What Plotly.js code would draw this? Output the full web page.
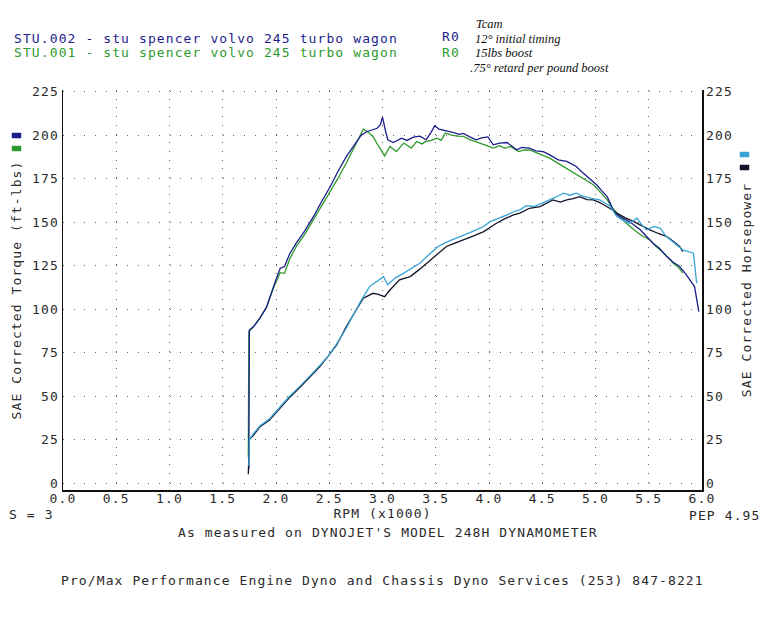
<!DOCTYPE html>
<html>
<head>
<meta charset="utf-8">
<script src="https://cdn.plot.ly/plotly-3.0.1.min.js"></script>
<style>
html,body{margin:0;padding:0;background:#fff;}
#chart{width:773px;height:638px;}
</style>
</head>
<body>
<div id="chart"></div>
<script>
// ---- data (rpm x1000, value) ----
const rpmTicks = [0.0,0.5,1.0,1.5,2.0,2.5,3.0,3.5,4.0,4.5,5.0,5.5,6.0];
const valueTicks = [0,25,50,75,100,125,150,175,200,225];

const torque002 = [[1.745,8],[1.75,88],[1.79,90],[1.85,95],[1.91,101],[1.975,113],[2.0,117],[2.04,123.5],[2.08,124.5],[2.13,132],[2.19,138],[2.27,145],[2.35,153],[2.43,162],[2.51,170.5],[2.58,179],[2.66,187.7],[2.72,193],[2.76,196.4],[2.80,200],[2.85,202],[2.90,203],[2.95,204],[2.98,206],[3.00,210.4],[3.03,202],[3.05,197.4],[3.10,195.8],[3.14,197],[3.18,198.3],[3.23,197],[3.29,198.9],[3.35,199.5],[3.41,197.4],[3.45,201],[3.49,205.4],[3.53,203.5],[3.57,203],[3.62,202],[3.67,201.5],[3.72,200.5],[3.76,201],[3.82,199],[3.88,197.4],[3.93,198.5],[3.99,199],[4.04,194.5],[4.10,195.5],[4.17,195.8],[4.22,193.5],[4.26,191.6],[4.31,193],[4.38,192.6],[4.44,191],[4.51,190.6],[4.57,188.7],[4.65,185.8],[4.73,184.9],[4.82,182],[4.87,179],[4.92,176.2],[5.01,171.5],[5.06,168],[5.11,164.7],[5.18,155.2],[5.23,153],[5.29,151.3],[5.35,149],[5.42,145.6],[5.48,142],[5.54,137.9],[5.60,135],[5.67,130.2],[5.73,127],[5.79,124.5],[5.85,120],[5.89,116.8],[5.93,113],[5.97,98.6]];

const torque001 = [[1.74,15],[1.745,87],[1.79,90],[1.85,95],[1.91,101],[1.975,112],[2.04,121],[2.08,120.6],[2.13,129],[2.19,136],[2.27,143],[2.35,151.3],[2.43,159],[2.51,167.6],[2.58,175],[2.66,184],[2.74,193.5],[2.78,199],[2.82,203.5],[2.86,202],[2.91,199.3],[2.96,194],[3.02,188.1],[3.07,193.5],[3.13,190.6],[3.20,195.5],[3.27,192.6],[3.32,196.4],[3.37,195],[3.41,196.4],[3.46,197],[3.51,198.3],[3.55,197],[3.59,201.2],[3.65,200],[3.70,199.5],[3.76,199.3],[3.82,197.5],[3.87,196.5],[3.92,195.5],[3.98,194],[4.04,192.6],[4.10,194],[4.15,192.5],[4.20,193.5],[4.28,190.6],[4.33,191.5],[4.38,191.6],[4.42,190.6],[4.50,189],[4.57,186.8],[4.63,184.5],[4.70,182],[4.78,179],[4.85,176.2],[4.92,174],[4.98,171.5],[5.05,167],[5.11,162.8],[5.16,158],[5.20,155.2],[5.28,150],[5.36,145.6],[5.43,142.5],[5.51,139.8],[5.57,136],[5.64,132.2],[5.69,129],[5.73,126.4],[5.78,124],[5.82,120.7]];

const hp002 = [[1.745,10],[1.75,25],[1.79,28.5],[1.85,33],[1.94,37],[2.04,44],[2.12,49.5],[2.23,56],[2.32,61.5],[2.41,67.5],[2.49,73],[2.57,80],[2.65,88],[2.73,97],[2.80,105],[2.88,113],[2.95,116],[3.01,118.7],[3.05,114],[3.12,118],[3.20,120.7],[3.28,123.5],[3.35,126.4],[3.43,131],[3.52,136],[3.60,138.5],[3.70,140.8],[3.78,143],[3.88,145.6],[3.95,147.5],[4.01,150.3],[4.10,152.3],[4.17,154.2],[4.23,156],[4.29,157.1],[4.35,159.5],[4.42,159],[4.50,161],[4.57,162.8],[4.63,164.5],[4.70,166.7],[4.76,165.5],[4.82,166.7],[4.88,165],[4.95,163.8],[5.04,162.8],[5.09,161],[5.14,159],[5.20,153.2],[5.26,151],[5.32,149.4],[5.39,152.3],[5.44,148],[5.48,145.6],[5.55,147.5],[5.61,146.5],[5.66,142],[5.70,139.8],[5.76,137],[5.82,134.1],[5.87,133],[5.92,132.2],[5.95,114.9]];

const hp001 = [[1.74,5],[1.75,25],[1.79,27.6],[1.85,32.4],[1.94,36.2],[2.04,43],[2.12,48.7],[2.23,55.4],[2.32,61],[2.41,66.9],[2.49,73],[2.57,79.4],[2.66,90],[2.73,97],[2.82,106.3],[2.91,109.1],[2.96,108.5],[3.02,107.2],[3.07,111],[3.16,116.8],[3.26,118.7],[3.35,123],[3.45,128.3],[3.52,132],[3.60,136],[3.68,138],[3.76,139.8],[3.85,142],[3.95,144.6],[4.01,147],[4.07,149.4],[4.15,152],[4.23,154.2],[4.29,155.2],[4.38,158],[4.48,159],[4.54,161],[4.60,162.8],[4.67,161.5],[4.73,162.8],[4.79,163.5],[4.85,164.7],[4.92,163],[4.98,162.8],[5.05,161],[5.11,159],[5.16,157],[5.20,155.2],[5.28,152.5],[5.36,150.3],[5.43,148],[5.51,145.6],[5.59,143.5],[5.67,141.7],[5.73,139],[5.79,136],[5.82,133]];

const runNames = ["STU.002 - stu spencer volvo 245 turbo wagon","STU.001 - stu spencer volvo 245 turbo wagon"];
const noteLines = ["Tcam","12° initial timing","15lbs boost",".75° retard per pound boost"];

// ---- styling ----
const C002T = "#1d1d8c", C001T = "#2e9a2e", C002H = "#3aa3d6", C001H = "#141428";
const MONO = "DejaVu Sans Mono, Liberation Mono, monospace";
const HAND = "Liberation Serif, DejaVu Serif, serif";
const TXT = "#2a2a2a";
const FS = 13;
const sp = t => '<span style="letter-spacing:1.1px">' + t + '</span>';

function tr(pairs, color, yaxis, name){
  return {x: pairs.map(p=>p[0]), y: pairs.map(p=>p[1]), type:"scatter", mode:"lines",
          name:name, yaxis:yaxis, line:{color:color, width:1.3}, hoverinfo:"skip"};
}
const data = [
  tr(hp001, C001H, "y2", "STU.001 HP"),
  tr(hp002, C002H, "y2", "STU.002 HP"),
  tr(torque001, C001T, "y", "STU.001 TQ"),
  tr(torque002, C002T, "y", "STU.002 TQ")
];

// plot area in pixels: x 63..702, y 90..490
const L=63, R=702, T=90, B=490;
const px = x => (x-L)/(R-L);
const py = y => (B-y)/(B-T);

function ann(text, x, y, opts){
  return Object.assign({text:sp(text), xref:"paper", yref:"paper", x:px(x), y:py(y), showarrow:false,
    xanchor:"left", yanchor:"middle", font:{family:MONO, size:FS, color:TXT}}, opts||{});
}
function note(text, x, y){
  return {text:'<i>'+text+'</i>', xref:"paper", yref:"paper", x:px(x), y:py(y), showarrow:false,
    xanchor:"left", yanchor:"middle", font:{family:HAND, size:12.5, color:"#111"}};
}
const annotations = [
  ann(runNames[0], 12, 38, {font:{family:MONO,size:FS,color:C002T}}),
  ann(runNames[1], 12, 52, {font:{family:MONO,size:FS,color:C001T}}),
  ann("R0", 440, 37, {font:{family:MONO,size:FS,color:C002T}}),
  ann("R0", 440, 52, {font:{family:MONO,size:FS,color:C001T}}),
  note(noteLines[0], 474, 24),
  note(noteLines[1], 473, 39),
  note(noteLines[2], 473, 53),
  note(noteLines[3], 468, 68),
  ann("S = 3", 7, 514),
  ann("PEP 4.95", 762, 515, {xanchor:"right"}),
  ann("As measured on DYNOJET'S MODEL 248H DYNAMOMETER", 388, 532, {xanchor:"center"}),
  ann("Pro/Max Performance Engine Dyno and Chassis Dyno Services (253) 847-8221", 382, 580, {xanchor:"center"})
];

function sw(x0,y0,x1,y1,color){
  return {type:"rect", xref:"paper", yref:"paper", x0:px(x0), x1:px(x1), y0:py(y0), y1:py(y1),
          fillcolor:color, line:{color:color, width:0.5}};
}
const shapes = [
  sw(12,133,21,138,C002T), sw(12,146,21,151,C001T),
  sw(740,152,749,157,C002H), sw(740,165,749,170,C001H)
];

const tf = {family:MONO,size:FS,color:TXT};
const layout = {
  width:773, height:638,
  margin:{l:L, r:773-R, t:T, b:638-B, pad:0},
  paper_bgcolor:"#ffffff", plot_bgcolor:"#ffffff",
  showlegend:false,
  font:{family:MONO, size:FS, color:TXT},
  xaxis:{range:[0,6], tickvals:rpmTicks, ticktext:rpmTicks.map(v=>sp(v.toFixed(1))),
    showline:true, linecolor:"#111", linewidth:1.5, zeroline:false, ticks:"",
    ticklabelstandoff:-4,
    showgrid:true, gridcolor:"#666", gridwidth:1, griddash:"1px,7.7px",
    tickfont:tf,
    title:{text:sp("RPM (x1000)"), font:tf, standoff:0}},
  yaxis:{range:[-4,226], tickvals:valueTicks, ticktext:valueTicks.map(v=>sp(String(v))),
    showline:true, linecolor:"#111", linewidth:1.5,
    zeroline:false, ticks:"", tickfont:tf,
    showgrid:true, gridcolor:"#666", gridwidth:1, griddash:"1px,9.65px",
    title:{text:sp("SAE Corrected Torque (ft-lbs)"), font:tf, standoff:7}},
  yaxis2:{range:[-4,226], tickvals:valueTicks, ticktext:valueTicks.map(v=>sp(String(v))),
    overlaying:"y", side:"right", showline:true,
    linecolor:"#111", linewidth:1.5, zeroline:false, ticks:"", showgrid:false,
    tickfont:tf,
    title:{text:sp("SAE Corrected Horsepower"), font:tf, standoff:10}},
  annotations:annotations,
  shapes:shapes
};

Plotly.newPlot("chart", data, layout, {displayModeBar:false, staticPlot:true});
</script>
</body>
</html>
